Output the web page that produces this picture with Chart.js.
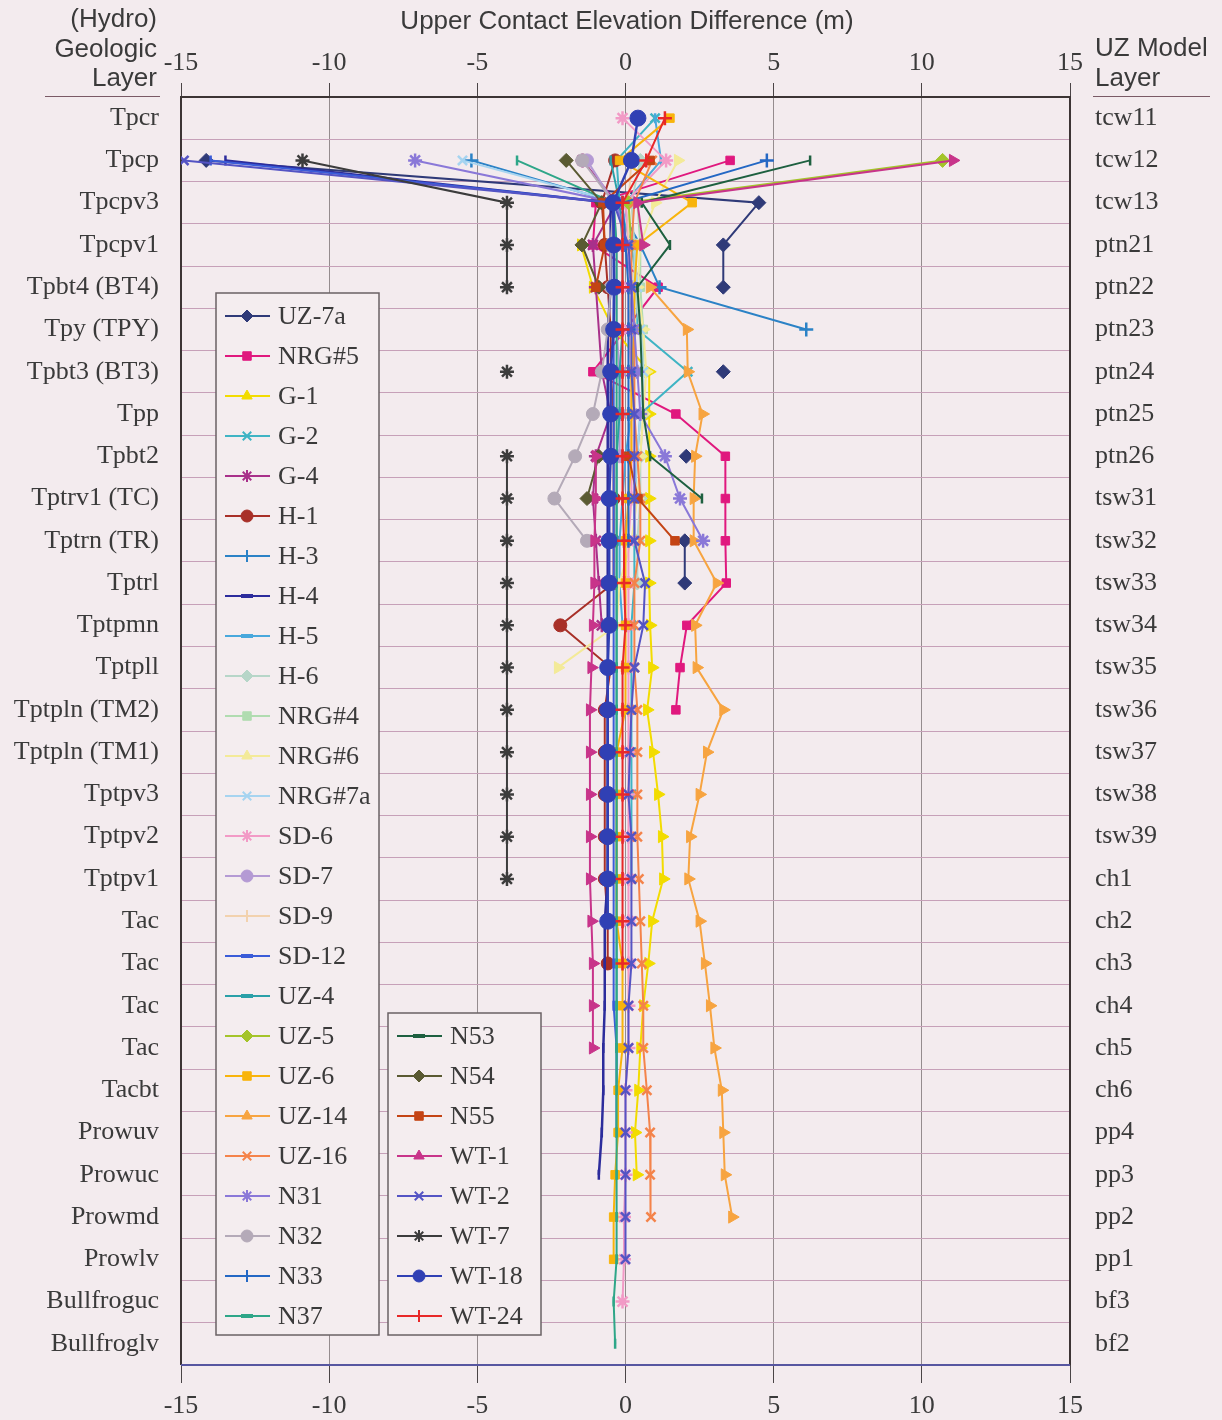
<!DOCTYPE html>
<html>
<head>
<meta charset="utf-8">
<script src="https://cdn.jsdelivr.net/npm/chart.js@4.4.1/dist/chart.umd.min.js"></script>
<style>
html,body{margin:0;padding:0;background:#f3ebee;}
#wrap{position:relative;width:1222px;height:1420px;overflow:hidden;}
#c{position:absolute;left:0;top:0;}
.hdr{position:absolute;font-family:"Liberation Sans",Arial,sans-serif;font-size:26px;color:#3a3a3a;white-space:nowrap;line-height:29.5px;}
#title{left:627px;top:6px;transform:translateX(-50%);}
#lhdr{right:1065px;top:4px;text-align:right;}
#rhdr{left:1095px;top:33px;text-align:left;}
.rule{position:absolute;height:0;border-top:1.5px solid #7a5a66;}
</style>
</head>
<body>
<div id="wrap">
<canvas id="c" width="1222" height="1420"></canvas>
<div class="hdr" id="title">Upper Contact Elevation Difference (m)</div>
<div class="hdr" id="lhdr">(Hydro)<br>Geologic<br>Layer</div>
<div class="hdr" id="rhdr">UZ Model<br>Layer</div>
<div class="rule" style="left:45px;width:115px;top:96px;"></div>
<div class="rule" style="left:1093px;width:117px;top:96px;"></div>
</div>
<script>
const _ = null;
const layers = ['Tpcr','Tpcp','Tpcpv3','Tpcpv1','Tpbt4 (BT4)','Tpy (TPY)','Tpbt3 (BT3)','Tpp','Tpbt2','Tptrv1 (TC)','Tptrn (TR)','Tptrl','Tptpmn','Tptpll','Tptpln (TM2)','Tptpln (TM1)','Tptpv3','Tptpv2','Tptpv1','Tac','Tac','Tac','Tac','Tacbt','Prowuv','Prowuc','Prowmd','Prowlv','Bullfroguc','Bullfroglv'];
const uzLayers = ['tcw11','tcw12','tcw13','ptn21','ptn22','ptn23','ptn24','ptn25','ptn26','tsw31','tsw32','tsw33','tsw34','tsw35','tsw36','tsw37','tsw38','tsw39','ch1','ch2','ch3','ch4','ch5','ch6','pp4','pp3','pp2','pp1','bf3','bf2'];
const xTickValues = [-15,-10,-5,0,5,10,15];

// Upper contact elevation difference (m), one value per layer (null = no data)
const UZ7a  = [_,-14.15,4.5,3.3,3.3,_,3.3,_,2.05,_,2.0,2.0,_,_,_,_,_,_,_,_,_,_,_,_,_,_,_,_,_,_];
const NRG5  = [_,3.53,-1.0,-1.1,1.1,_,-1.1,1.7,3.37,3.37,3.37,3.4,2.07,1.84,1.7,_,_,_,_,_,_,_,_,_,_,_,_,_,_,_];
const G1    = [_,_,_,-1.5,-1.1,-0.4,0.8,0.8,0.8,0.8,0.8,0.8,0.83,0.9,0.73,0.93,1.1,1.23,1.27,0.9,0.77,0.6,0.5,0.43,0.32,0.38,_,_,_,_];
const G2    = [1.0,-0.3,-0.2,0.2,0.4,0.4,2.1,0.5,0.4,0.3,0.3,0.3,0.2,0.2,0.2,0.2,0.2,0.2,0.2,_,_,_,_,_,_,_,_,_,_,_];
const G4    = [_,-1.45,-0.3,-1.1,-1.0,_,-0.8,-0.5,-1.0,-1.1,-1.0,-0.9,-0.8,_,_,_,_,_,_,_,_,_,_,_,_,_,_,_,_,_];
const H1    = [_,-0.35,-0.8,-0.7,-0.6,-0.5,-0.5,-0.4,-0.4,-0.4,-0.4,-0.4,-2.2,-0.5,-0.7,-0.7,-0.7,-0.7,-0.7,-0.6,-0.6,_,_,_,_,_,_,_,_,_];
const H3    = [_,-5.2,-0.3,0.5,1.15,6.1,_,_,_,_,_,_,_,_,_,_,_,_,_,_,_,_,_,_,_,_,_,_,_,_];
const H4    = [_,-13.5,-0.5,-0.5,-0.5,-0.6,-0.6,-0.6,-0.6,-0.6,-0.6,-0.6,-0.6,-0.6,-0.6,-0.6,-0.6,-0.6,-0.6,-0.7,-0.7,-0.7,-0.75,-0.75,-0.8,-0.9,_,_,_,_];
const H5    = [1.0,1.2,0.0,0.1,0.1,0.2,0.3,0.2,0.0,-0.1,-0.2,-0.2,-0.1,_,_,_,_,_,_,_,_,_,_,_,_,_,_,_,_,_];
const H6    = [_,0.5,0.2,0.3,0.3,0.5,0.6,0.6,0.5,0.5,0.4,0.4,_,_,_,_,_,_,_,_,_,_,_,_,_,_,_,_,_,_];
const NRG4  = [_,_,0.4,0.5,0.5,0.6,0.6,_,_,_,_,_,_,_,_,_,_,_,_,_,_,_,_,_,_,_,_,_,_,_];
const NRG6  = [_,1.77,1.0,0.5,0.4,0.6,0.7,0.6,0.5,0.4,0.2,-0.2,-0.3,-2.28,_,_,_,_,_,_,_,_,_,_,_,_,_,_,_,_];
const NRG7a = [_,-5.5,-0.2,0.3,0.4,0.5,0.6,0.5,0.4,0.3,0.3,_,_,_,_,_,_,_,_,_,_,_,_,_,_,_,_,_,_,_];
const SD6   = [-0.1,1.37,0.0,0.1,0.1,0.1,0.2,0.2,0.2,0.2,0.1,0.1,0.1,0.1,0.1,0.1,0.1,0.1,0.1,0.1,0.1,0.1,0.1,0.0,0.0,0.0,-0.05,-0.05,-0.1,_];
const SD7   = [_,-1.3,-0.4,-0.3,-0.3,-0.3,-0.2,-0.2,-0.2,_,_,_,_,_,_,_,_,_,_,_,_,_,_,_,_,_,_,_,_,_];
const SD9   = [_,0.2,0.1,0.1,0.1,0.2,0.2,0.2,_,_,_,_,_,_,_,_,_,_,_,_,_,_,_,_,_,_,_,_,_,_];
const SD12  = [_,-14.0,-0.4,-0.4,-0.4,-0.4,-0.4,-0.4,-0.4,-0.4,-0.4,-0.4,-0.4,-0.4,-0.4,-0.4,-0.4,-0.4,-0.4,-0.4,-0.4,-0.4,-0.3,-0.3,-0.3,_,_,_,_,_];
const UZ4   = [_,-0.5,-0.2,-0.1,-0.1,-0.1,-0.2,-0.2,-0.3,-0.3,-0.3,-0.3,-0.3,-0.3,-0.3,-0.3,-0.3,-0.3,-0.3,-0.3,-0.3,-0.3,-0.3,-0.3,-0.3,_,_,_,_,_];
const UZ5   = [_,10.7,0.1,0.2,_,_,_,_,_,_,_,_,_,_,_,_,_,_,_,_,_,_,_,_,_,_,_,_,_,_];
const UZ6   = [1.5,-0.2,2.25,0.4,0.3,0.3,0.2,0.2,0.2,0.1,0.0,0.0,0.0,0.0,0.0,-0.3,-0.3,-0.3,-0.3,-0.3,-0.1,-0.1,-0.1,-0.25,-0.25,-0.35,-0.4,-0.4,_,_];
const UZ14  = [_,_,_,_,0.82,2.07,2.1,2.6,2.35,2.3,2.3,3.08,2.35,2.4,3.3,2.75,2.5,2.18,2.12,2.5,2.68,2.85,3.0,3.25,3.3,3.35,3.6,_,_,_];
const UZ16  = [_,0.9,0.3,0.2,0.2,0.3,0.3,0.3,0.4,0.5,0.5,0.3,0.3,0.3,0.4,0.4,0.4,0.4,0.45,0.5,0.55,0.6,0.6,0.72,0.83,0.83,0.86,_,_,_];
const N31   = [_,-7.1,-0.3,0.0,0.2,0.3,0.4,0.5,1.33,1.84,2.62,_,_,_,_,_,_,_,_,_,_,_,_,_,_,_,_,_,_,_];
const N32   = [_,-1.46,-0.4,-0.5,-0.5,-0.6,-0.8,-1.1,-1.7,-2.4,-1.3,_,_,_,_,_,_,_,_,_,_,_,_,_,_,_,_,_,_,_];
const N33   = [_,4.77,-0.1,0.0,0.1,0.1,0.1,0.1,0.1,0.1,0.1,_,_,_,_,_,_,_,_,_,_,_,_,_,_,_,_,_,_,_];
const N37   = [_,-3.66,-0.4,-0.3,-0.3,-0.3,-0.3,-0.3,-0.3,-0.3,-0.3,-0.3,-0.3,-0.3,-0.3,-0.3,-0.3,-0.3,-0.3,-0.3,-0.3,-0.3,-0.3,-0.3,-0.3,-0.3,-0.3,-0.3,-0.4,-0.35];
const N53   = [_,6.23,0.55,1.5,0.4,0.5,0.55,0.6,0.83,2.58,_,_,_,_,_,_,_,_,_,_,_,_,_,_,_,_,_,_,_,_];
const N54   = [_,-2.0,-0.8,-1.47,-0.9,_,_,_,-0.9,-1.3,_,_,_,_,_,_,_,_,_,_,_,_,_,_,_,_,_,_,_,_];
const N55   = [_,0.83,-0.76,-0.7,-1.0,_,_,_,0.1,0.42,1.67,_,_,_,_,_,_,_,_,_,_,_,_,_,_,_,_,_,_,_];
const WT1   = [_,11.05,0.4,0.6,_,_,_,_,-1.0,-1.0,-1.05,-1.05,-1.1,-1.15,-1.2,-1.2,-1.2,-1.2,-1.2,-1.15,-1.1,-1.1,-1.1,_,_,_,_,_,_,_];
const WT2   = [_,-14.9,-0.4,0.1,0.2,0.2,0.2,0.3,0.3,0.3,0.3,0.66,0.6,0.3,0.2,0.15,0.1,0.2,0.2,0.2,0.2,0.1,0.1,0.0,0.0,0.0,0.0,0.0,_,_];
const WT7   = [_,-10.9,-4.0,-4.0,-4.0,_,-4.0,_,-4.0,-4.0,-4.0,-4.0,-4.0,-4.0,-4.0,-4.0,-4.0,-4.0,-4.0,_,_,_,_,_,_,_,_,_,_,_];
const WT18  = [0.42,0.2,-0.42,-0.4,-0.38,-0.4,-0.5,-0.5,-0.5,-0.55,-0.55,-0.55,-0.55,-0.6,-0.6,-0.6,-0.6,-0.6,-0.6,-0.6,_,_,_,_,_,_,_,_,_,_];
const WT24  = [1.33,0.7,-0.1,-0.1,-0.1,-0.1,-0.1,-0.1,-0.1,-0.1,-0.05,-0.05,0.0,-0.1,-0.1,-0.1,-0.1,-0.1,-0.1,-0.1,-0.1,_,_,_,_,_,_,_,_,_];

const seriesNames = ['UZ-7a','NRG#5','G-1','G-2','G-4','H-1','H-3','H-4','H-5','H-6','NRG#4','NRG#6','NRG#7a','SD-6','SD-7','SD-9','SD-12','UZ-4','UZ-5','UZ-6','UZ-14','UZ-16','N31','N32','N33','N37','N53','N54','N55','WT-1','WT-2','WT-7','WT-18','WT-24'];
const seriesValues = [UZ7a,NRG5,G1,G2,G4,H1,H3,H4,H5,H6,NRG4,NRG6,NRG7a,SD6,SD7,SD9,SD12,UZ4,UZ5,UZ6,UZ14,UZ16,N31,N32,N33,N37,N53,N54,N55,WT1,WT2,WT7,WT18,WT24];
const gapSeries = ['UZ-7a','N54','N55','WT-1','WT-7'];

// styles
const seriesColors = ['#2f3a78','#e0187e','#f2dc00','#3fb4c4','#a8308a','#a83028','#2b82c6','#2c2c9c','#48a8dc','#b6d6c8','#b0dcb0','#f3ea98','#a6d4f0','#f29ac6','#b49ad4','#f2d2ae','#3a5cd8','#2aa0a8','#a4c42a','#f8b40c','#f7a440','#f4834a','#8a78d8','#b4aab8','#2468c4','#2ea688','#1e6040','#5a5a32','#c44414','#c8348a','#5454c4','#3c3c3c','#3040b4','#e82828'];
const seriesMarkers = ['rectRot','rect','triangle','crossRot','star','circle','cross','line','line','rectRot','rect','triangle','crossRot','star','circle','cross','line','line','rectRot','rect','triangle','crossRot','star','circle','cross','line','line','rectRot','rect','triangle','crossRot','star','circle','cross'];
const markerSize = {rectRot:7, rect:6, triangle:7, crossRot:6.5, star:7, circle:6.5, cross:7, line:5};
const SERIF = "'Liberation Serif','Times New Roman',serif";
const INK = '#3a3a3a';
const isStroke = m => m === 'cross' || m === 'crossRot' || m === 'star' || m === 'line';

const datasets = seriesNames.map((name, i) => {
  const m = seriesMarkers[i];
  const col = seriesColors[i];
  return {
    label: name,
    data: seriesValues[i],
    xAxisID: 'x', yAxisID: 'y',
    borderColor: col,
    backgroundColor: col,
    borderWidth: name === 'WT-18' || name === 'H-4' ? 2.5 : 2,
    pointStyle: m,
    pointRotation: 90,
    pointRadius: name === 'WT-18' ? 8 : markerSize[m],
    pointBackgroundColor: col,
    pointBorderColor: col,
    pointBorderWidth: isStroke(m) ? 2.5 : 1,
    tension: 0,
    spanGaps: !gapSeries.includes(name),
    order: seriesNames.length - i
  };
});

const framePlugin = {
  id: 'frame',
  beforeDraw(chart) {
    const {ctx, width, height} = chart;
    ctx.save(); ctx.fillStyle = '#f3ebee'; ctx.fillRect(0, 0, width, height); ctx.restore();
  },
  beforeDatasetsDraw(chart) {
    const {ctx, chartArea: a} = chart;
    ctx.save();
    ctx.lineWidth = 2;
    ctx.strokeStyle = '#3c3434';
    ctx.beginPath();
    ctx.moveTo(a.left, a.bottom); ctx.lineTo(a.left, a.top); ctx.lineTo(a.right, a.top); ctx.lineTo(a.right, a.bottom);
    ctx.stroke();
    ctx.strokeStyle = '#5656a0';
    ctx.beginPath(); ctx.moveTo(a.left, a.bottom); ctx.lineTo(a.right, a.bottom); ctx.stroke();
    ctx.restore();
  }
};

function drawMarker(ctx, style, r, x, y) {
  if (style === 'line') {
    ctx.fillRect(x - 6, y - 2, 12, 4);
    return;
  }
  if (Chart.helpers && Chart.helpers.drawPoint) {
    Chart.helpers.drawPoint(ctx, {pointStyle: style, rotation: 0, radius: r, borderWidth: 1}, x, y);
  } else {
    ctx.beginPath(); ctx.arc(x, y, r, 0, Math.PI * 2); ctx.fill(); ctx.stroke();
  }
}

const legendPlugin = {
  id: 'boxLegend',
  afterDatasetsDraw(chart) {
    const {ctx, chartArea: a} = chart;
    const boxes = [
      {x: a.left + 35, y: a.top + 196, w: 163, h: 1042, first: 0, count: 26},
      {x: a.left + 207, y: a.top + 916, w: 153, h: 322, first: 26, count: 8}
    ];
    ctx.save();
    boxes.forEach(b => {
      ctx.fillStyle = '#f4edef';
      ctx.fillRect(b.x, b.y, b.w, b.h);
      ctx.strokeStyle = '#6a6264';
      ctx.lineWidth = 1.5;
      ctx.strokeRect(b.x, b.y, b.w, b.h);
      for (let k = 0; k < b.count; k++) {
        const i = b.first + k;
        const cy = b.y + 23 + k * 40;
        const col = seriesColors[i];
        ctx.strokeStyle = col; ctx.fillStyle = col; ctx.lineWidth = 2;
        ctx.beginPath(); ctx.moveTo(b.x + 9, cy); ctx.lineTo(b.x + 54, cy); ctx.stroke();
        const m = seriesMarkers[i];
        ctx.lineWidth = isStroke(m) ? 2 : 1;
        drawMarker(ctx, m, 6, b.x + 31, cy);
        ctx.fillStyle = INK;
        ctx.font = '26px ' + SERIF;
        ctx.textBaseline = 'middle';
        ctx.textAlign = 'left';
        ctx.fillText(seriesNames[i], b.x + 62, cy + 1);
      }
    });
    ctx.restore();
  }
};

const tickFont = {family: SERIF, size: 26};
const setTicks = s => { s.ticks = xTickValues.map(v => ({value: v})); };

new Chart(document.getElementById('c'), {
  type: 'line',
  data: {labels: layers, datasets},
  plugins: [framePlugin, legendPlugin],
  options: {
    responsive: false,
    animation: false,
    indexAxis: 'y',
    layout: {padding: 0},
    plugins: {legend: {display: false}, tooltip: {enabled: false}, title: {display: false}},
    scales: {
      x: {
        type: 'linear', position: 'bottom', min: -15, max: 15,
        afterBuildTicks: setTicks,
        afterFit: s => { s.height = 55; },
        grid: {color: '#948c8e', lineWidth: 1, drawOnChartArea: true, drawTicks: true, tickLength: 18, tickColor: '#4a4446'},
        border: {display: false},
        ticks: {font: tickFont, color: INK, padding: 8, autoSkip: false, maxRotation: 0}
      },
      x2: {
        type: 'linear', position: 'top', min: -15, max: 15,
        afterBuildTicks: setTicks,
        afterFit: s => { s.height = 97; },
        grid: {drawOnChartArea: false, drawTicks: true, tickLength: 14, tickColor: '#4a4446'},
        border: {display: false},
        ticks: {font: tickFont, color: INK, padding: 4, autoSkip: false, maxRotation: 0}
      },
      y: {
        type: 'category', position: 'left', offset: true,
        afterFit: s => { s.width = 181; },
        grid: {offset: true, color: '#c6a0b8', lineWidth: 1, drawTicks: false},
        border: {display: false},
        ticks: {font: tickFont, color: INK, padding: 22, autoSkip: false}
      },
      y2: {
        type: 'category', position: 'right', offset: true, labels: uzLayers,
        afterFit: s => { s.width = 152; },
        grid: {display: false, drawTicks: false},
        border: {display: false},
        ticks: {font: tickFont, color: INK, padding: 25, autoSkip: false}
      }
    }
  }
});
</script>
</body>
</html>
